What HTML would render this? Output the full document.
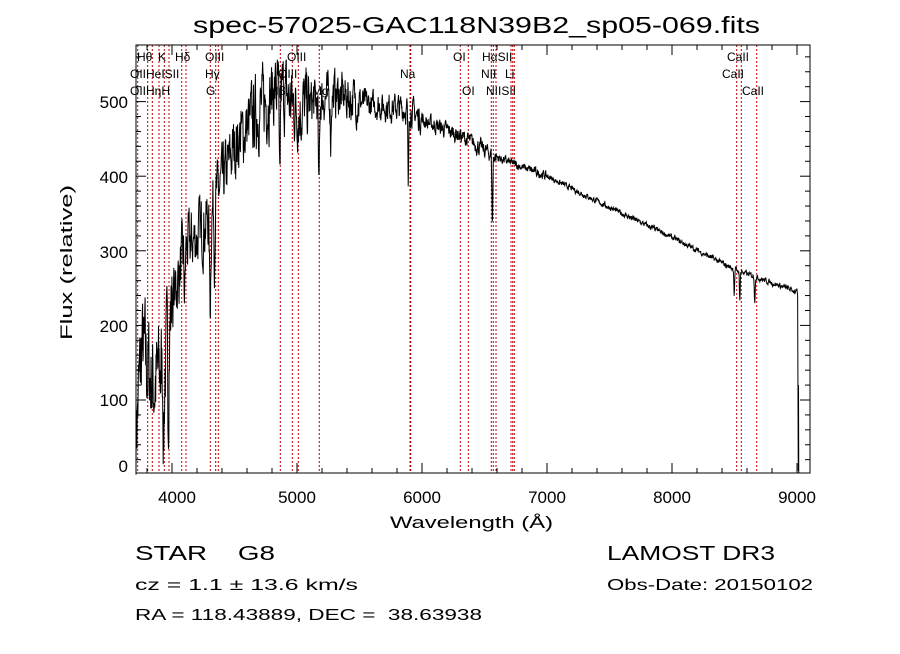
<!DOCTYPE html>
<html><head><meta charset="utf-8"><style>
body{margin:0;background:#fff;width:900px;height:649px;overflow:hidden}
svg text{font-family:"Liberation Sans",sans-serif;white-space:pre}
.l{font-family:"Liberation Serif",serif;font-size:12px}
</style></head><body>
<svg id="s" width="900" height="649" xmlns="http://www.w3.org/2000/svg">
<rect width="900" height="649" fill="#fff"/>
<text x="193" y="33" font-size="23" textLength="567" lengthAdjust="spacingAndGlyphs">spec-57025-GAC118N39B2_sp05-069.fits</text>
<g id="lines" stroke="#c00000" stroke-width="1" stroke-dasharray="2,2"></g>
<path id="sp" fill="none" stroke="#000" stroke-width="1"/>
<rect x="136" y="45" width="674" height="428" fill="none" stroke="#000" stroke-width="1"/>
<g id="ticks" stroke="#000" stroke-width="1"></g>
<g font-size="17" text-anchor="middle">
<text x="177" y="503">4000</text><text x="297" y="503">5000</text><text x="422" y="503">6000</text>
<text x="547" y="503">7000</text><text x="672" y="503">8000</text><text x="797" y="503">9000</text>
</g>
<g font-size="17" text-anchor="end">
<text x="128" y="472">0</text><text x="128" y="406">100</text><text x="128" y="332">200</text>
<text x="128" y="258">300</text><text x="128" y="183">400</text><text x="128" y="108">500</text>
</g>
<text x="390" y="528" font-size="17" textLength="163" lengthAdjust="spacingAndGlyphs">Wavelength (Å)</text>
<text transform="translate(72,340) rotate(-90)" font-size="17" textLength="155" lengthAdjust="spacingAndGlyphs">Flux (relative)</text>
<g class="l">
<text x="137" y="61">Hθ</text><text x="158" y="61">K</text><text x="175" y="61">Hδ</text><text x="205" y="61">OIII</text><text x="287" y="61">OIII</text><text x="453" y="61">OI</text><text x="482" y="61">HαSII</text><text x="727" y="61">CaII</text>
<text x="130" y="78">OIIHeISII</text><text x="205" y="78">Hγ</text><text x="278" y="78">OIII</text><text x="400" y="78">Na</text><text x="481" y="78">NII</text><text x="505" y="78">Li</text><text x="722" y="78">CaII</text>
<text x="130" y="95">OIIHηH</text><text x="206" y="95">G</text><text x="270" y="95">Hβ</text><text x="312" y="95">Mg</text><text x="462" y="95">OI</text><text x="486" y="95">NIISII</text><text x="742" y="95">CaII</text>
</g>
<text x="135" y="560" font-size="20" textLength="140" lengthAdjust="spacingAndGlyphs">STAR    G8</text>
<text x="607" y="560" font-size="20" textLength="168" lengthAdjust="spacingAndGlyphs">LAMOST DR3</text>
<text x="135" y="590" font-size="16" textLength="223" lengthAdjust="spacingAndGlyphs">cz = 1.1 ± 13.6 km/s</text>
<text x="607" y="590" font-size="16" textLength="206" lengthAdjust="spacingAndGlyphs">Obs-Date: 20150102</text>
<text x="135" y="620" font-size="16" textLength="347" lengthAdjust="spacingAndGlyphs">RA = 118.43889, DEC =  38.63938</text>
</svg>
<script>
var X=function(l){return 172+0.125*(l-4000)},Y=function(v){return 400-(v-100)*0.746};
var lx=[137.7,147.7,152.3,159,164.3,169,181.7,186,210.3,215.7,218.3,280.3,292.3,298.3,319.3,410,410.7,460.3,468.3,491.3,493.3,496,511,512.7,514.3,736.7,741.3,756.7];
var g=document.getElementById('lines'),h='';
lx.forEach(function(x){h+='<line x1="'+x+'" y1="45" x2="'+x+'" y2="473"/>'});g.innerHTML=h;
var t='';
for(var l=3800;l<=9100;l+=200){var x=X(l),L=(l%1000==0)?10:5;t+='<line x1="'+x+'" y1="473" x2="'+x+'" y2="'+(473-L)+'"/><line x1="'+x+'" y1="45" x2="'+x+'" y2="'+(45+L)+'"/>';}
for(var v=20;v<=560;v+=20){var y=Y(v),L=(v%100==0)?10:5;t+='<line x1="136" y1="'+y+'" x2="'+(136+L)+'" y2="'+y+'"/><line x1="810" y1="'+y+'" x2="'+(810-L)+'" y2="'+y+'"/>';}
document.getElementById('ticks').innerHTML=t;
var C=[[3712,60],[3760,170],[3850,120],[3950,150],[4000,230],[4100,300],[4250,330],[4400,390],[4500,440],[4700,490],[4850,520],[5000,490],[5300,510],[5600,495],[5900,490],[6000,475],[6300,455],[6600,425],[7000,400],[7500,358],[8000,318],[8500,275],[9000,245]];
function cont(l){for(var i=0;i<C.length-1;i++){if(l<=C[i+1][0]){var f=(l-C[i][0])/(C[i+1][0]-C[i][0]);return C[i][1]+f*(C[i+1][1]-C[i][1]);}}return 245;}
var D=[[4305,120,8],[4861,150,6],[5175,130,6],[5270,60,5],[5890,110,5],[6563,90,5],[8498,35,4],[8542,40,4],[8662,35,4],[4340,60,5],[4101,60,6],[3970,80,6],[3934,90,6]];
var seed=7;function r(){seed=(seed*16807)%2147483647;return seed/2147483647-0.5;}
var d='',w=0;
for(var l=3712;l<=9000;l+=2.5){
 var amp=l<4000?120:l<4600?70:l<5100?80:l<5500?50:l<6000?30:l<6600?18:l<7000?10:6;
 w=0.5*w+r()*amp;var v=cont(l)+w;
 D.forEach(function(q){var z=(l-q[0])/q[2];v-=q[1]*Math.exp(-z*z);});
 if(v<0)v=0;if(v>575)v=575;
 d+=(d?'L':'M')+X(l).toFixed(1)+' '+Y(v).toFixed(1);
}
d+='L'+X(9005)+' '+Y(240)+'L'+X(9010)+' '+Y(5)+'L'+X(9012)+' '+Y(120)+'L'+X(9014)+' '+Y(2);
document.getElementById('sp').setAttribute('d',d);
</script>
</body></html>
